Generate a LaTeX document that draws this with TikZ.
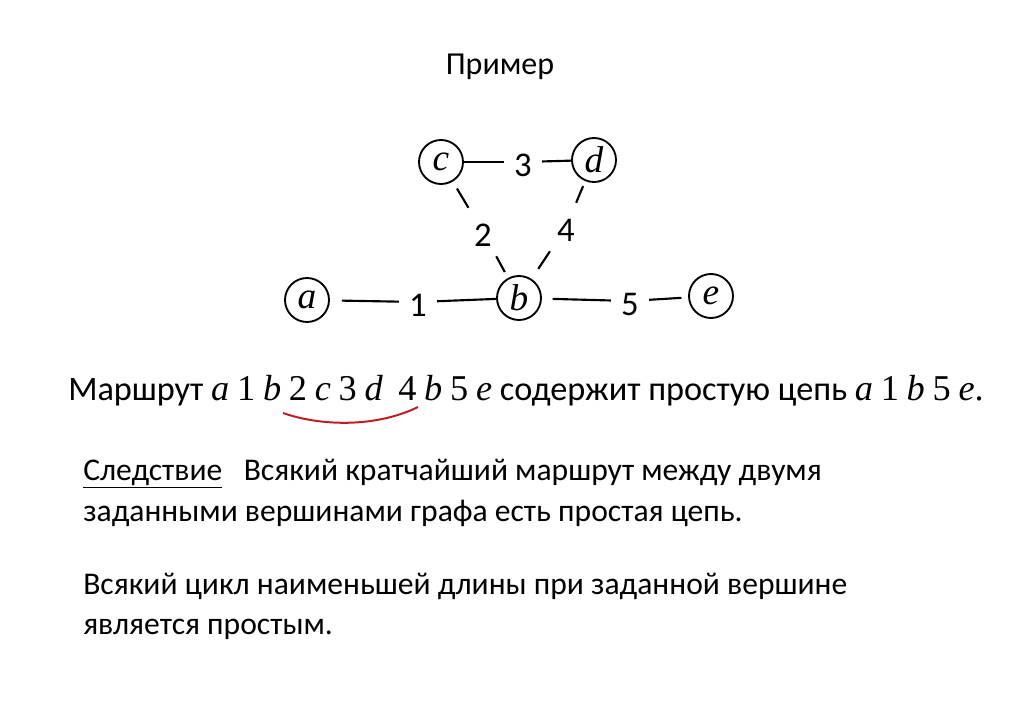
\documentclass[tikz,border=0pt]{standalone}
\usepackage{fontspec}
\setmainfont{Carlito}
\newfontfamily\timesFont{Liberation Serif}
\newfontfamily\routeFont[Scale=1.06]{Liberation Serif}
\usetikzlibrary{positioning}
\definecolor{arcColor}{RGB}{190,30,35}
\tikzstyle{slide} = [x=0.75pt, y=-0.75pt]
\tikzstyle{vertexStyle} = [draw, circle, line width=1.4pt, minimum size=33pt, inner sep=0pt, font=\fontsize{28}{32}\selectfont\timesFont\itshape]
\tikzstyle{weightStyle} = [inner xsep=7.6pt, inner ysep=6.8pt, text height=22.4pt, font=\fontsize{26}{30}\selectfont]
\tikzstyle{edgeStyle} = [line width=1.6pt]
\tikzstyle{textStyle} = [anchor=base west, inner sep=0pt, font=\fontsize{23.7}{30}\selectfont]
\tikzstyle{arcStyle} = [color=arcColor, line width=1.5pt]
\newcommand{\routeVertex}[1]{{\routeFont\itshape #1}}
\newcommand{\routeNumber}[1]{{\routeFont #1}}

\begin{document}
\begin{tikzpicture}[slide]
  \useasboundingbox (0,0) rectangle (1024,723);
  \node [font=\fontsize{24}{30}\selectfont] (title) at (500,67) {Пример};

  % vertices
  \node [vertexStyle] (a) at (307,300) {a};
  \node [vertexStyle] (b) at (519,298) {b};
  \node [vertexStyle] (c) at (441,162) {c};
  \node [vertexStyle] (d) at (594,160) {d};
  \node [vertexStyle] (e) at (711,296) {e};

  % edge numbers
  \node [weightStyle] (w1) at (418,302) {1};
  \node [weightStyle] (w2) at (483,232) {2};
  \node [weightStyle] (w3) at (523,162) {3};
  \node [weightStyle] (w4) at (566,227) {4};
  \node [weightStyle] (w5) at (630,301) {5};

  \draw [edgeStyle, shorten <=9pt] (a) -- (w1);
  \draw [edgeStyle] (w1) -- (b);
  \draw [edgeStyle, shorten <=6pt] (c) -- (w2);
  \draw [edgeStyle, shorten >=5pt] (w2) -- (b);
  \draw [edgeStyle] (c) -- (w3);
  \draw [edgeStyle] (w3) -- (d);
  \draw [edgeStyle, shorten <=4pt] (d) -- (w4);
  \draw [edgeStyle, shorten >=9pt] (w4) -- (b);
  \draw [edgeStyle, shorten <=8pt] (b) -- (w5);
  \draw [edgeStyle, shorten >=5pt] (w5) -- (e);

  % route
  \node [textStyle, font=\fontsize{25.7}{30}\selectfont] (route) at (68,401) {Маршрут
    \routeVertex{a} \routeNumber{1} \routeVertex{b} \routeNumber{2} \routeVertex{c} \routeNumber{3} \routeVertex{d}\ \ \routeNumber{4} \routeVertex{b} \routeNumber{5} \routeVertex{e}
    содержит простую цепь
    \routeVertex{a} \routeNumber{1} \routeVertex{b} \routeNumber{5} \routeVertex{e}\routeNumber{.}};
  \draw [arcStyle] (283,413) .. controls (320,426) and (375,428) .. (418,407);

  % corollary
  \node [textStyle] (line1) at (83,480) {\underline{Следствие}\hspace{0.45em} Всякий кратчайший маршрут между двумя};
  \node [textStyle] (line2) at (83,521) {заданными вершинами графа есть простая цепь.};
  \node [textStyle] (line3) at (83,594) {Всякий цикл наименьшей длины при заданной вершине};
  \node [textStyle] (line4) at (83,634) {является простым.};
\end{tikzpicture}
\end{document}
